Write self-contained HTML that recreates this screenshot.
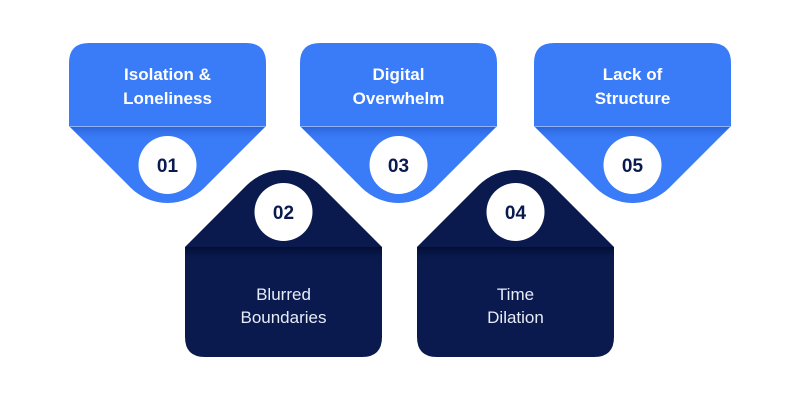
<!DOCTYPE html>
<html><head><style>
body{margin:0;background:#fff;width:800px;height:400px;overflow:hidden}
svg text{font-family:"Liberation Sans",sans-serif;text-anchor:middle}
</style></head><body>
<svg width="800" height="400" viewBox="0 0 800 400">
<defs>
<linearGradient id="gb" x1="0" y1="0" x2="0" y2="1"><stop offset="0" stop-color="#2a64d8"/><stop offset="1" stop-color="#3a7bf8" stop-opacity="0"/></linearGradient>
<linearGradient id="gd" x1="0" y1="0" x2="0" y2="1"><stop offset="0" stop-color="#020d33"/><stop offset="1" stop-color="#0a1a4f" stop-opacity="0"/></linearGradient>
</defs>
</svg>
<script>
const svg=document.querySelector('svg');
let n=0;
function blue(x,num,l1,l2){
 const w=197,r=20,xm=x+w/2,id='c'+(n++);
 const d=`M${x} 126 L${x} ${43+r} Q${x} 43 ${x+r} 43 L${x+w-r} 43 Q${x+w} 43 ${x+w} ${43+r} L${x+w} 126 L${xm+36.8} 187.7 A52 52 0 0 1 ${xm-36.8} 187.7 Z`;
 svg.insertAdjacentHTML('beforeend',`<clipPath id="${id}"><path d="${d}"/></clipPath><path d="${d}" fill="#3a7bf8"/>
 <rect x="${x}" y="127" width="${w}" height="14" fill="url(#gb)" clip-path="url(#${id})"/>
 <line x1="${x}" y1="126.5" x2="${x+w}" y2="126.5" stroke="#8fb2fb" stroke-width="1"/>
 <circle cx="${xm}" cy="165" r="29" fill="#fff"/>
 <text x="${xm}" y="172" font-size="19" font-weight="bold" fill="#0a1a4f">${num}</text>
 <text x="${xm}" y="80" font-size="17" fill="#fff" font-weight="600">${l1}</text>
 <text x="${xm}" y="104" font-size="17" fill="#fff" font-weight="600">${l2}</text>`);
}
function dark(x,num,l1,l2){
 const w=197,r=20,xm=x+w/2,id='c'+(n++);
 const d=`M${x} 247 L${x} ${357-r} Q${x} 357 ${x+r} 357 L${x+w-r} 357 Q${x+w} 357 ${x+w} ${357-r} L${x+w} 247 L${xm+36.8} 185.3 A52 52 0 0 0 ${xm-36.8} 185.3 Z`;
 svg.insertAdjacentHTML('beforeend',`<clipPath id="${id}"><path d="${d}"/></clipPath><path d="${d}" fill="#0a1a4f"/>
 <rect x="${x}" y="247" width="${w}" height="14" fill="url(#gd)" clip-path="url(#${id})"/>
 <circle cx="${xm}" cy="212" r="29" fill="#fff"/>
 <text x="${xm}" y="219" font-size="19" font-weight="bold" fill="#0a1a4f">${num}</text>
 <text x="${xm}" y="300" font-size="17" fill="#e8ecf7">${l1}</text>
 <text x="${xm}" y="323" font-size="17" fill="#e8ecf7">${l2}</text>`);
}
blue(69,'01','Isolation &amp;','Loneliness');
blue(300,'03','Digital','Overwhelm');
blue(534,'05','Lack of','Structure');
dark(185,'02','Blurred','Boundaries');
dark(417,'04','Time','Dilation');
</script>
</body></html>
